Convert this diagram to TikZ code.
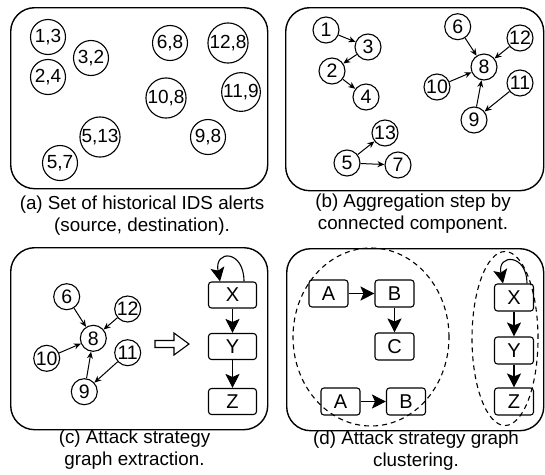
\documentclass[tikz,border=0pt]{standalone}
\usepackage{fontspec}
\setmainfont{Liberation Sans}
\usetikzlibrary{arrows.meta,shapes.geometric}
\begin{document}
\begin{tikzpicture}[x=1pt,y=1pt,
  panel/.style={draw, line width=1.4pt, rounded corners=24pt},
  alert/.style={circle, draw, line width=1.1pt, minimum size=35pt, inner sep=0pt, font=\fontsize{19}{19}\selectfont},
  ev/.style={circle, draw, line width=1.1pt, minimum size=26pt, inner sep=0pt, font=\fontsize{19.5}{19.5}\selectfont},
  sbox/.style={draw, line width=1.1pt, rounded corners=3pt, minimum width=48pt, minimum height=26pt, inner sep=0pt, font=\fontsize{20}{20}\selectfont},
  dbox/.style={sbox, minimum width=39pt, minimum height=27pt},
  arr/.style={-{Stealth[length=7pt,width=6pt]}, line width=1pt},
  barr/.style={-{Stealth[length=14pt,width=14pt,inset=3pt]}, line width=1.1pt},
  capt/.style={align=center, font=\fontsize{18.8}{22}\selectfont},
  clu/.style={draw, ellipse, inner sep=0pt, line width=1.1pt, dash pattern=on 5pt off 4pt}
]
\useasboundingbox (0,0) rectangle (545,-474);

% ---------- panel (a)
\node[panel, minimum width=257pt, minimum height=181pt, anchor=north west, inner sep=0pt] (pa) at (10,-7) {};
\node[alert] (a13) at (48,-37) {1,3};
\node[alert] (a32) at (91,-58) {3,2};
\node[alert] (a24) at (48,-77) {2,4};
\node[alert] (a68) at (170,-43) {6,8};
\node[alert] (a128) at (228,-43) {12,8};
\node[alert] (a108) at (166,-98) {10,8};
\node[alert] (a119) at (241,-92) {11,9};
\node[alert] (a98) at (208,-137) {9,8};
\node[alert] (a513) at (100,-137) {5,13};
\node[alert] (a57) at (60,-163) {5,7};
\node[capt] (capa) at (142,-216) {(a) Set of historical IDS alerts\\(source, destination).};

% ---------- panel (b)
\node[panel, minimum width=258pt, minimum height=183pt, anchor=north west, inner sep=0pt] (pb) at (285,-7) {};
\node[ev] (b1) at (326,-30) {1};
\node[ev] (b3) at (368,-47) {3};
\node[ev] (b2) at (332,-71) {2};
\node[ev] (b4) at (366,-97) {4};
\node[ev] (b6) at (457.7,-26.7) {6};
\node[ev] (b12) at (520,-38) {12};
\node[ev] (b8) at (484,-67) {8};
\node[ev] (b10) at (437,-87) {10};
\node[ev] (b11) at (520,-83) {11};
\node[ev] (b9) at (474,-120) {9};
\node[ev] (b13) at (385,-133) {13};
\node[ev] (b5) at (347,-163) {5};
\node[ev] (b7) at (398,-165) {7};
\draw[arr] (b1) -- (b3);
\draw[arr] (b3) -- (b2);
\draw[arr] (b2) -- (b4);
\draw[arr] (b6) -- (b8);
\draw[arr] (b12) -- (b8);
\draw[arr] (b10) -- (b8);
\draw[arr] (b9) -- (b8);
\draw[arr] (b11) -- (b9);
\draw[arr] (b5) -- (b13);
\draw[arr] (b5) -- (b7);
\node[capt] (capb) at (413,-214) {(b) Aggregation step by\\connected component.};

% ---------- panel (c)
\node[panel, minimum width=257pt, minimum height=182pt, anchor=north west, inner sep=0pt] (pc) at (10,-247) {};
\node[ev] (c6) at (66.7,-296.7) {6};
\node[ev] (c12) at (127.7,-309) {12};
\node[ev] (c8) at (93.3,-338.3) {8};
\node[ev] (c10) at (46.7,-358.3) {10};
\node[ev] (c11) at (127.7,-352.7) {11};
\node[ev] (c9) at (84.3,-391.7) {9};
\draw[arr] (c6) -- (c8);
\draw[arr] (c12) -- (c8);
\draw[arr] (c10) -- (c8);
\draw[arr] (c9) -- (c8);
\draw[arr] (c11) -- (c9);
\draw[line width=1.1pt, line join=miter] (155,-340.5) -- (174,-340.5) -- (174,-333) -- (189,-344) -- (174,-355) -- (174,-347.5) -- (155,-347.5) -- cycle;
\node[sbox] (cX) at (232.5,-295) {X};
\node[sbox] (cY) at (232.5,-346.5) {Y};
\node[sbox] (cZ) at (232.5,-401.5) {Z};
\draw[barr] (cX) -- (cY);
\draw[barr] (cY) -- (cZ);
\draw[barr] ([xshift=11.5pt]cX.north) .. controls +(0,32) and +(-6,32) .. ([xshift=-12.5pt]cX.north);
\node[capt] (capc) at (134.5,-450) {(c) Attack strategy\\graph extraction.};

% ---------- panel (d)
\node[panel, minimum width=257pt, minimum height=182pt, anchor=north west, inner sep=0pt] (pd) at (286,-248) {};
\node[clu, minimum width=156pt, minimum height=178pt] (e1) at (371,-337) {};
\node[clu, minimum width=66pt, minimum height=174pt] (e2) at (505,-338.5) {};
\node[dbox] (dA1) at (328.5,-293.5) {A};
\node[dbox] (dB1) at (394.5,-293.5) {B};
\node[dbox] (dC) at (394.5,-346.5) {C};
\node[dbox] (dA2) at (340.5,-401.5) {A};
\node[dbox] (dB2) at (406,-401.5) {B};
\node[dbox] (dX) at (514,-297.5) {X};
\node[dbox] (dY) at (514,-350.5) {Y};
\node[dbox] (dZ) at (514,-401.5) {Z};
\draw[barr] (dA1) -- (dB1);
\draw[barr] (dB1) -- (dC);
\draw[barr] (dA2) -- (dB2);
\draw[barr] (dX) -- (dY);
\draw[barr] (dY) -- (dZ);
\draw[barr] ([xshift=13pt]dX.north) .. controls +(0,30) and +(-6,30) .. ([xshift=-11pt]dX.north);
\node[capt] (capd) at (416,-451) {(d) Attack strategy graph\\clustering.};
\end{tikzpicture}
\end{document}
